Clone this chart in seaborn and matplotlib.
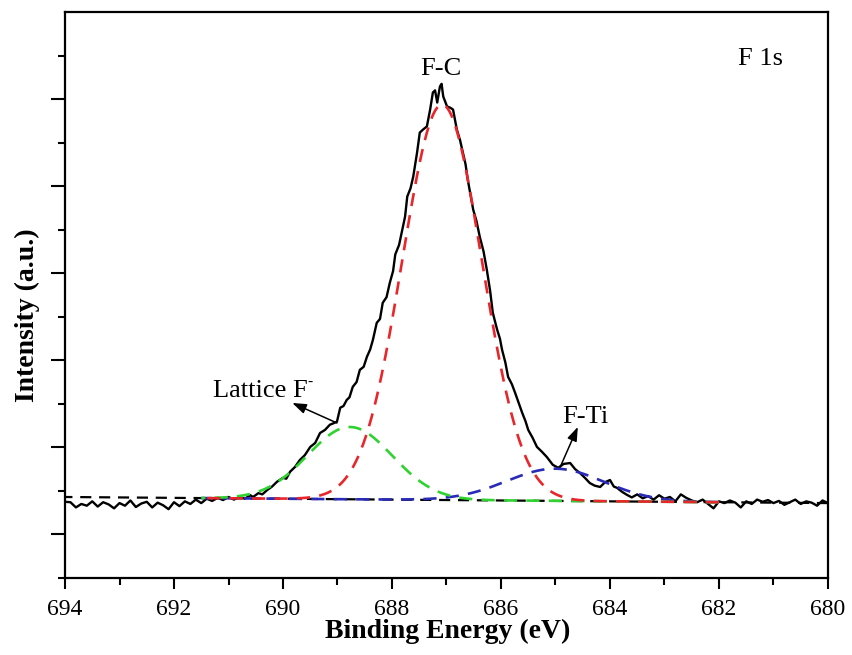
import numpy as np
import pandas as pd
import matplotlib
matplotlib.use("Agg")
import matplotlib.pyplot as plt
from matplotlib.ticker import MultipleLocator, FixedLocator
import seaborn as sns

# ---------------- data ----------------
energy = [694.0, 693.9, 693.8, 693.7, 693.6, 693.5, 693.4, 693.3, 693.2, 693.1,
          693.0, 692.9, 692.8, 692.7, 692.6, 692.5, 692.4, 692.3, 692.2, 692.1,
          692.0, 691.9, 691.8, 691.7, 691.6, 691.5, 691.4, 691.3, 691.2, 691.1,
          691.0, 690.9, 690.8, 690.7, 690.6, 690.55, 690.45, 690.38, 690.29, 690.2,
          690.11, 690.0, 689.94, 689.87, 689.78, 689.69, 689.6, 689.5, 689.41, 689.32,
          689.23, 689.14, 689.08, 689.01, 688.95, 688.89, 688.83, 688.78, 688.72, 688.65,
          688.59, 688.52, 688.46, 688.40, 688.35, 688.28, 688.22, 688.17, 688.10, 688.04,
          687.98, 687.94, 687.87, 687.80, 687.76, 687.72, 687.66, 687.61, 687.54, 687.49,
          687.43, 687.36, 687.30, 687.25, 687.21, 687.17, 687.12, 687.09, 687.06, 686.99,
          686.93, 686.88, 686.81, 686.75, 686.70, 686.65, 686.61, 686.56, 686.51, 686.45,
          686.39, 686.32, 686.26, 686.20, 686.15, 686.07, 686.02, 685.98, 685.92, 685.87,
          685.80, 685.74, 685.67, 685.61, 685.55, 685.50, 685.42, 685.34, 685.25, 685.16,
          685.05, 684.95, 684.85, 684.73, 684.64, 684.55, 684.46, 684.37, 684.28, 684.18,
          684.09, 684.00, 683.93, 683.87, 683.78, 683.69, 683.6, 683.5, 683.4, 683.3,
          683.2, 683.1, 683.0, 682.9, 682.8, 682.7, 682.6, 682.5, 682.4, 682.3,
          682.2, 682.1, 682.0, 681.9, 681.8, 681.7, 681.6, 681.5, 681.4, 681.3,
          681.2, 681.1, 681.0, 680.9, 680.8, 680.7, 680.6, 680.5, 680.4, 680.3,
          680.2, 680.1, 680.0]
intensity = [1.75, 1.74, 1.62, 1.70, 1.66, 1.76, 1.64, 1.74, 1.69, 1.60,
             1.72, 1.66, 1.78, 1.63, 1.71, 1.75, 1.62, 1.73, 1.67, 1.58,
             1.74, 1.65, 1.76, 1.70, 1.80, 1.72, 1.82, 1.77, 1.84, 1.79,
             1.86, 1.80, 1.86, 1.82, 1.90, 1.86, 1.95, 1.92, 2.02, 2.10,
             2.21, 2.30, 2.28, 2.44, 2.55, 2.71, 2.82, 3.01, 3.10, 3.33,
             3.40, 3.52, 3.55, 3.59, 3.91, 3.95, 4.09, 4.15, 4.39, 4.50,
             4.78, 4.85, 5.08, 5.25, 5.47, 5.86, 5.95, 6.32, 6.45, 6.78,
             7.05, 7.43, 7.65, 8.07, 8.30, 8.76, 8.95, 9.22, 9.77, 10.23,
             10.30, 10.37, 10.76, 11.15, 11.20, 10.92, 11.29, 11.35, 11.06, 10.83,
             10.80, 10.76, 10.30, 10.05, 9.77, 9.50, 9.15, 8.80, 8.46, 8.20,
             7.84, 7.50, 7.08, 6.60, 6.09, 5.70, 5.50, 5.24, 4.95, 4.62,
             4.45, 4.25, 4.00, 3.79, 3.60, 3.40, 3.22, 3.01, 2.90, 2.78,
             2.60, 2.53, 2.62, 2.64, 2.50, 2.41, 2.30, 2.18, 2.12, 2.09,
             2.20, 2.25, 2.10, 2.07, 1.98, 1.91, 1.85, 1.92, 1.83, 1.88,
             1.80, 1.90, 1.82, 1.86, 1.76, 1.92, 1.84, 1.78, 1.74, 1.80,
             1.70, 1.60, 1.76, 1.72, 1.78, 1.73, 1.62, 1.76, 1.70, 1.80,
             1.75, 1.79, 1.72, 1.77, 1.68, 1.74, 1.80, 1.70, 1.76, 1.73,
             1.66, 1.78, 1.72]

# linear background end points
bg_energy = [694.0, 680.0]
bg_level = [1.86, 1.72]

# fitted component peaks
comp_names = ["F-Ti", "Lattice F", "F-C"]
comp_center = [685.00, 688.77, 687.08]
comp_height = [0.74, 1.66, 9.08]
comp_fwhm = [2.10, 1.83, 1.72]
comp_colors = ["#2a2ab8", "#2fd22f", "#e8262b"]
fit_range = [691.5, 682.0]

# ---------------- figure ----------------
sns.set_theme(style="ticks")
plt.rcParams['font.family'] = ['Liberation Serif', 'DejaVu Serif']
for k in ["text.color", "axes.labelcolor", "xtick.color", "ytick.color", "axes.edgecolor"]:
    plt.rcParams[k] = "black"

fig = plt.figure(figsize=(8.52, 6.55), dpi=100)
ax = fig.add_axes([0.0763, 0.1176, 0.8955, 0.8641])

spec = pd.DataFrame({"energy": energy, "intensity": intensity})
sns.lineplot(data=spec, x="energy", y="intensity", ax=ax, color="black",
             lw=1.7, sort=False, zorder=3)

bg = pd.DataFrame({"energy": bg_energy, "intensity": bg_level})
sns.lineplot(data=bg, x="energy", y="intensity", ax=ax, color="black",
             lw=1.6, zorder=4, linestyle=(0, (5, 3.5)))

egrid = np.linspace(fit_range[0], fit_range[1], 400)
bline = np.interp(egrid, bg_energy[::-1], bg_level[::-1])
for name, c, h, w, col in zip(comp_names, comp_center, comp_height, comp_fwhm, comp_colors):
    sig = w / 2.3548
    comp = pd.DataFrame({"energy": egrid,
                         "intensity": bline + h * np.exp(-0.5 * ((egrid - c) / sig) ** 2)})
    sns.lineplot(data=comp, x="energy", y="intensity", ax=ax, color=col,
                 lw=1.9, zorder=4, linestyle=(0, (5, 3.5)))

ax.set_xlim(694, 680)
ax.set_ylim(0, 13)

ax.xaxis.set_major_locator(MultipleLocator(2))
ax.xaxis.set_minor_locator(MultipleLocator(1))
ax.yaxis.set_major_locator(FixedLocator([1, 3, 5, 7, 9, 11]))
ax.yaxis.set_minor_locator(FixedLocator([0, 2, 4, 6, 8, 10, 12]))
ax.set_yticklabels([])
ax.tick_params(axis="both", which="major", direction="out", length=8, width=1.5,
               labelsize=17, colors="black", pad=7)
ax.tick_params(axis="both", which="minor", direction="out", length=5, width=1.5)
ax.tick_params(axis="y", which="major", length=10)
ax.tick_params(top=False, right=False, which="both")
for s in ax.spines.values():
    s.set_linewidth(1.6)
    s.set_color("black")

ax.set_xlabel("Binding Energy (eV)", fontsize=20, fontweight="bold")
ax.set_ylabel("Intensity (a.u.)", fontsize=20, fontweight="bold")
ax.xaxis.set_label_coords(0.502, -0.072)
ax.yaxis.set_label_coords(-0.033, 0.465)

# annotations
ax.text(687.10, 11.56, "F-C", fontsize=19, ha="center", va="baseline")
ax.text(681.23, 11.79, "F 1s", fontsize=19, ha="center", va="baseline")
ax.text(690.41, 4.16, "Lattice F", fontsize=19, ha="center", va="baseline")
ax.text(689.55, 4.42, "-", fontsize=11, ha="left", va="baseline")
ax.text(684.46, 3.56, "F-Ti", fontsize=19, ha="center", va="baseline")
arrow = dict(arrowstyle="-|>,head_length=0.7,head_width=0.25", lw=1.1, color="black",
             shrinkA=0, shrinkB=0)
ax.annotate("", xy=(689.83, 4.02), xytext=(689.01, 3.56), arrowprops=arrow)
ax.annotate("", xy=(684.59, 3.47), xytext=(684.92, 2.53), arrowprops=arrow)

fig.savefig("out.png", dpi=100)
